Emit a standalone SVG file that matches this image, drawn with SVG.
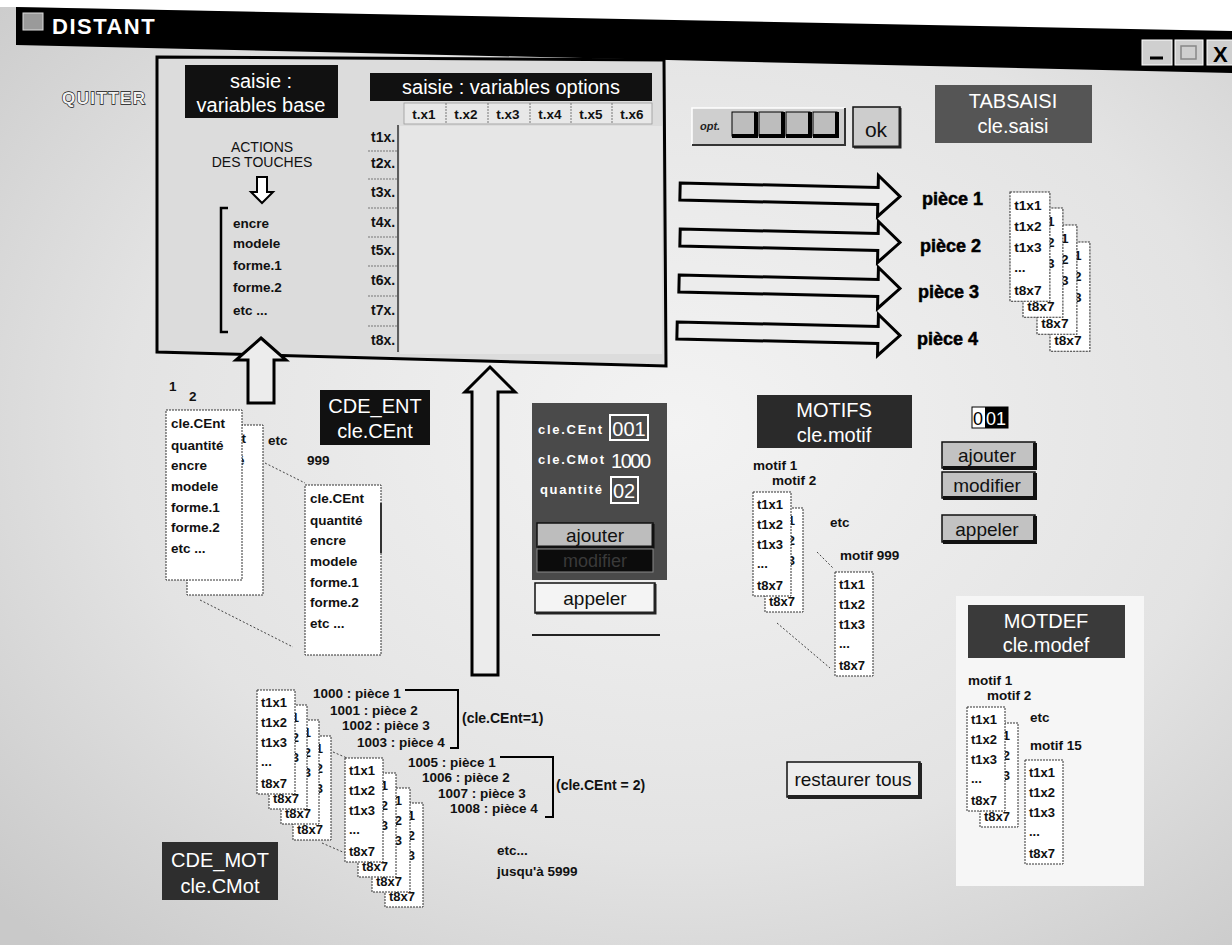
<svg xmlns="http://www.w3.org/2000/svg" width="1232" height="945" viewBox="0 0 1232 945">
<style>
text{font-family:"Liberation Sans",Arial,sans-serif}
.lab{font-size:20px;fill:#fff;text-anchor:middle}
.ct{font-size:13px;font-weight:bold;fill:#111}
.card{fill:#fff;stroke:#333;stroke-width:1;stroke-dasharray:2 1}
.arr{fill:#ececec;stroke:#000;stroke-width:3;stroke-linejoin:miter}
.dot{stroke:#444;stroke-width:1;stroke-dasharray:2 2;fill:none}
.btn{fill:#c2c2c2;stroke:#111;stroke-width:1.5}
.bt{font-size:19px;fill:#111;text-anchor:middle}
.sm{font-size:13.5px;font-weight:bold;fill:#111}
.hd{font-size:13.5px;font-weight:bold;fill:#111;text-anchor:middle}
.rl{font-size:14px;font-weight:bold;fill:#111}
.sep{stroke:#777;stroke-width:1;stroke-dasharray:2 1}
.pc{font-size:18px;font-weight:bold;fill:#000;stroke:#000;stroke-width:0.5}
.pl{font-size:13px;font-weight:bold;fill:#fff}
</style>
<defs>
<radialGradient id="bg" cx="0.55" cy="0.45" r="0.75">
<stop offset="0" stop-color="#f3f3f3"/><stop offset="0.6" stop-color="#e3e3e3"/><stop offset="1" stop-color="#c9c9c9"/>
</radialGradient>
<g id="cardT">
<rect class="card" x="0" y="0" width="38" height="104"/>
<text class="ct" x="4" y="17">t1x1</text>
<text class="ct" x="4" y="37">t1x2</text>
<text class="ct" x="4" y="57">t1x3</text>
<text class="ct" x="4" y="76">...</text>
<text class="ct" x="4" y="98">t8x7</text>
</g>
<g id="cardE">
<rect class="card" x="0" y="0" width="76" height="170"/>
<text class="sm" x="5" y="18">cle.CEnt</text>
<text class="sm" x="5" y="40">quantité</text>
<text class="sm" x="5" y="60">encre</text>
<text class="sm" x="5" y="81">modele</text>
<text class="sm" x="5" y="102">forme.1</text>
<text class="sm" x="5" y="122">forme.2</text>
<text class="sm" x="5" y="143">etc ...</text>
</g>
</defs>

<rect x="0" y="0" width="1232" height="945" fill="url(#bg)"/>
<polygon points="0,0 1232,0 1232,32 16,7 0,7" fill="#fff"/>

<g id="titlebar">
<polygon points="16,7 1232,31 1232,73 16,45" fill="#000"/>
<rect x="23" y="13" width="20" height="17" fill="#9a9a9a" stroke="#ddd" stroke-width="1"/>
<text x="52" y="34" font-size="22" font-weight="bold" fill="#fff" letter-spacing="1.5">DISTANT</text>
<rect x="1142" y="40" width="30" height="25" fill="#cfcfcf" stroke="#fff"/>
<line x1="1150" y1="58" x2="1163" y2="58" stroke="#000" stroke-width="3"/>
<rect x="1175" y="40" width="28" height="25" fill="#cfcfcf" stroke="#fff"/>
<rect x="1181" y="46" width="15" height="13" fill="none" stroke="#888" stroke-width="1.5"/>
<rect x="1207" y="40" width="28" height="25" fill="#cfcfcf" stroke="#fff"/>
<text x="1213" y="62" font-size="22" font-weight="bold" fill="#000">X</text>
</g>

<g id="quitter">
<text x="62" y="104" font-size="17" font-weight="bold" fill="#f2f2f2" stroke="#111" stroke-width="1.3" paint-order="stroke" textLength="83">QUITTER</text>
</g>

<g id="saisie">
<polygon points="157,57 664,60 666,366 157,352" fill="#dcdcdc" stroke="#000" stroke-width="3"/>
<rect x="185" y="65" width="153" height="53" fill="#111"/>
<text class="lab" x="261" y="88">saisie :</text>
<text class="lab" x="261" y="112">variables base</text>
<rect x="370" y="73" width="282" height="28" fill="#111"/>
<text class="lab" x="511" y="94">saisie : variables options</text>
<rect x="404" y="103" width="248" height="21" fill="#e8e8e8" stroke="#999" stroke-width="0.8"/>
<line class="sep" x1="446" y1="103" x2="446" y2="124"/>
<line class="sep" x1="488" y1="103" x2="488" y2="124"/>
<line class="sep" x1="530" y1="103" x2="530" y2="124"/>
<line class="sep" x1="571" y1="103" x2="571" y2="124"/>
<line class="sep" x1="612" y1="103" x2="612" y2="124"/>
<text class="hd" x="424" y="119">t.x1</text>
<text class="hd" x="466" y="119">t.x2</text>
<text class="hd" x="508" y="119">t.x3</text>
<text class="hd" x="550" y="119">t.x4</text>
<text class="hd" x="591" y="119">t.x5</text>
<text class="hd" x="632" y="119">t.x6</text>
<rect x="400" y="126" width="262" height="228" fill="#e6e6e6"/>
<line x1="398" y1="125" x2="398" y2="352" stroke="#333" stroke-width="1.5"/>
<line class="sep" x1="368" y1="151" x2="398" y2="151"/>
<line class="sep" x1="368" y1="179" x2="398" y2="179"/>
<line class="sep" x1="368" y1="208" x2="398" y2="208"/>
<line class="sep" x1="368" y1="237" x2="398" y2="237"/>
<line class="sep" x1="368" y1="266" x2="398" y2="266"/>
<line class="sep" x1="368" y1="296" x2="398" y2="296"/>
<line class="sep" x1="368" y1="326" x2="398" y2="326"/>
<text class="rl" x="371" y="142">t1x.</text>
<text class="rl" x="371" y="168">t2x.</text>
<text class="rl" x="371" y="197">t3x.</text>
<text class="rl" x="371" y="227">t4x.</text>
<text class="rl" x="371" y="255">t5x.</text>
<text class="rl" x="371" y="285">t6x.</text>
<text class="rl" x="371" y="315">t7x.</text>
<text class="rl" x="371" y="345">t8x.</text>
<text x="262" y="152" font-size="14" fill="#111" text-anchor="middle">ACTIONS</text>
<text x="262" y="167" font-size="14" fill="#111" text-anchor="middle">DES TOUCHES</text>
<polygon points="257,177 267,177 267,192 273,192 262,203 251,192 257,192" fill="#fff" stroke="#000" stroke-width="2"/>
<path d="M228,208 L221,208 L221,332 L228,332" fill="none" stroke="#000" stroke-width="2.5"/>
<text class="sm" x="233" y="228">encre</text>
<text class="sm" x="233" y="248">modele</text>
<text class="sm" x="233" y="270">forme.1</text>
<text class="sm" x="233" y="292">forme.2</text>
<text class="sm" x="233" y="315">etc ...</text>
</g>

<g id="opt">
<rect x="692" y="108" width="153" height="37" fill="#cfcfcf"/>
<path d="M692,145 L692,108 L845,108" fill="none" stroke="#fff" stroke-width="1.5"/>
<path d="M692,145 L845,145 L845,108" fill="none" stroke="#333" stroke-width="2"/>
<text x="700" y="130" font-size="11" font-style="italic" font-weight="bold" fill="#222">opt.</text>
<rect x="732" y="112" width="24" height="24" fill="#bdbdbd" stroke="#000"/>
<path d="M756,112 L756,136 L732,136" fill="none" stroke="#000" stroke-width="4"/>
<rect x="759" y="112" width="24" height="24" fill="#bdbdbd" stroke="#000"/>
<path d="M783,112 L783,136 L759,136" fill="none" stroke="#000" stroke-width="4"/>
<rect x="786" y="112" width="24" height="24" fill="#bdbdbd" stroke="#000"/>
<path d="M810,112 L810,136 L786,136" fill="none" stroke="#000" stroke-width="4"/>
<rect x="813" y="112" width="24" height="24" fill="#bdbdbd" stroke="#000"/>
<path d="M837,112 L837,136 L813,136" fill="none" stroke="#000" stroke-width="4"/>
</g>
<g id="ok">
<rect x="853" y="107" width="47" height="40" fill="#cdcdcd" stroke="#111" stroke-width="1.5"/>
<path d="M900,108 L900,147 L854,147" fill="none" stroke="#222" stroke-width="3"/>
<text x="876" y="137" font-size="21" fill="#111" text-anchor="middle">ok</text>
</g>

<g id="tabsaisi">
<rect x="935" y="85" width="157" height="58" fill="#555"/>
<text class="lab" x="1013" y="108">TABSAISI</text>
<text class="lab" x="1013" y="133">cle.saisi</text>
<use href="#cardT" transform="translate(1050,242) scale(1.05)"/>
<use href="#cardT" transform="translate(1037,225) scale(1.05)"/>
<use href="#cardT" transform="translate(1023,208) scale(1.05)"/>
<use href="#cardT" transform="translate(1010,192) scale(1.05)"/>
<text class="pc" x="922" y="205">pièce 1</text>
<text class="pc" x="920" y="252">pièce 2</text>
<text class="pc" x="918" y="298">pièce 3</text>
<text class="pc" x="917" y="345">pièce 4</text>
</g>

<g id="cde_ent">
<rect x="320" y="390" width="110" height="55" fill="#111"/>
<text class="lab" x="375" y="413">CDE_ENT</text>
<text class="lab" x="375" y="438">cle.CEnt</text>
<text class="sm" x="169" y="391">1</text>
<text class="sm" x="189" y="401">2</text>
<use href="#cardE" transform="translate(187,425)"/>
<use href="#cardE" transform="translate(166,410)"/>
<text class="sm" x="268" y="445">etc</text>
<text class="sm" x="307" y="465">999</text>
<use href="#cardE" transform="translate(305,485)"/>
<line x1="381" y1="503" x2="381" y2="553" stroke="#333" stroke-width="2"/>
</g>

<g id="panel">
<rect x="532" y="403" width="135" height="177" fill="#4a4a4a"/>
<text class="pl" x="538" y="434" textLength="64">cle.CEnt</text>
<rect x="610" y="415" width="38" height="25" fill="none" stroke="#fff" stroke-width="2"/>
<text x="629" y="436" font-size="20" fill="#fff" text-anchor="middle">001</text>
<text class="pl" x="538" y="464" textLength="66">cle.CMot</text>
<text x="631" y="468" font-size="20" fill="#fff" text-anchor="middle" textLength="40">1000</text>
<text class="pl" x="540" y="494" textLength="62">quantité</text>
<rect x="611" y="477" width="27" height="26" fill="none" stroke="#fff" stroke-width="2"/>
<text x="624" y="498" font-size="20" fill="#fff" text-anchor="middle">02</text>
<rect x="537" y="523" width="116" height="24" fill="#bdbdbd" stroke="#111" stroke-width="1.5"/>
<path d="M653,524 L653,547 L538,547" fill="none" stroke="#111" stroke-width="3"/>
<text x="595" y="542" font-size="19" fill="#111" text-anchor="middle">ajouter</text>
<rect x="537" y="549" width="116" height="23" fill="#0c0c0c" stroke="#888" stroke-width="1"/>
<text x="595" y="567" font-size="18" fill="#3a3a3a" text-anchor="middle">modifier</text>
<rect x="535" y="583" width="120" height="30" fill="#f4f4f4" stroke="#111" stroke-width="1.5"/>
<path d="M655,584 L655,613 L536,613" fill="none" stroke="#222" stroke-width="3"/>
<text x="595" y="605" font-size="19" fill="#111" text-anchor="middle">appeler</text>
<line x1="532" y1="635" x2="660" y2="635" stroke="#222" stroke-width="2"/>
</g>

<g id="motifs">
<rect x="757" y="395" width="155" height="53" fill="#2a2a2a"/>
<text class="lab" x="834" y="417">MOTIFS</text>
<text class="lab" x="834" y="442">cle.motif</text>
<text class="sm" x="753" y="470">motif 1</text>
<text class="sm" x="772" y="485">motif 2</text>
<use href="#cardT" transform="translate(765,508)"/>
<use href="#cardT" transform="translate(753,492)"/>
<text class="sm" x="830" y="527">etc</text>
<text class="sm" x="840" y="560">motif 999</text>
<use href="#cardT" transform="translate(835,572)"/>
</g>

<g id="motif_ctrl">
<rect x="972" y="407" width="36" height="21" fill="#fff" stroke="#000"/>
<rect x="985" y="407" width="23" height="21" fill="#000"/>
<text x="973" y="425" font-size="18" fill="#000">0</text>
<text x="986" y="425" font-size="18" fill="#fff">01</text>
<rect x="942" y="442" width="93" height="26" class="btn"/>
<path d="M1035,443 L1035,468 L943,468" fill="none" stroke="#111" stroke-width="4"/>
<text class="bt" x="987" y="462">ajouter</text>
<rect x="942" y="472" width="93" height="26" class="btn"/>
<path d="M1035,473 L1035,498 L943,498" fill="none" stroke="#111" stroke-width="4"/>
<text class="bt" x="987" y="492">modifier</text>
<rect x="942" y="515" width="93" height="27" class="btn"/>
<path d="M1035,516 L1035,542 L943,542" fill="none" stroke="#111" stroke-width="4"/>
<text class="bt" x="987" y="536">appeler</text>
</g>

<g id="motdef">
<rect x="956" y="596" width="188" height="290" fill="#f6f6f6"/>
<rect x="968" y="605" width="157" height="53" fill="#3a3a3a"/>
<text class="lab" x="1046" y="628">MOTDEF</text>
<text class="lab" x="1046" y="652">cle.modef</text>
<text class="sm" x="968" y="685">motif 1</text>
<text class="sm" x="987" y="700">motif 2</text>
<use href="#cardT" transform="translate(980,723)"/>
<use href="#cardT" transform="translate(967,707)"/>
<text class="sm" x="1030" y="722">etc</text>
<text class="sm" x="1030" y="750">motif 15</text>
<use href="#cardT" transform="translate(1025,760)"/>
</g>

<g id="restaurer">
<rect x="787" y="762" width="133" height="35" fill="#ededed" stroke="#111" stroke-width="1.5"/>
<path d="M920,763 L920,797 L788,797" fill="none" stroke="#222" stroke-width="4"/>
<text class="bt" x="853" y="786">restaurer tous</text>
</g>

<g id="cde_mot">
<rect x="162" y="842" width="116" height="58" fill="#2e2e2e"/>
<text class="lab" x="220" y="867">CDE_MOT</text>
<text class="lab" x="220" y="893">cle.CMot</text>
<use href="#cardT" transform="translate(293,736)"/>
<use href="#cardT" transform="translate(281,720)"/>
<use href="#cardT" transform="translate(269,705)"/>
<use href="#cardT" transform="translate(257,690)"/>
<use href="#cardT" transform="translate(385,803)"/>
<use href="#cardT" transform="translate(372,788)"/>
<use href="#cardT" transform="translate(358,773)"/>
<use href="#cardT" transform="translate(345,758)"/>
<text class="sm" x="313" y="698">1000 : pièce 1</text>
<text class="sm" x="330" y="715">1001 : pièce 2</text>
<text class="sm" x="342" y="730">1002 : pièce 3</text>
<text class="sm" x="357" y="747">1003 : pièce 4</text>
<path d="M405,690 L458,690 L458,748 L450,748" fill="none" stroke="#000" stroke-width="2"/>
<text x="462" y="723" font-size="14" font-weight="bold" fill="#111">(cle.CEnt=1)</text>
<text class="sm" x="408" y="767">1005 : pièce 1</text>
<text class="sm" x="422" y="782">1006 : pièce 2</text>
<text class="sm" x="438" y="798">1007 : pièce 3</text>
<text class="sm" x="450" y="813">1008 : pièce 4</text>
<path d="M500,757 L553,757 L553,817 L545,817" fill="none" stroke="#000" stroke-width="2"/>
<text x="556" y="790" font-size="14" font-weight="bold" fill="#111">(cle.CEnt = 2)</text>
<text class="sm" x="497" y="855">etc...</text>
<text class="sm" x="497" y="876">jusqu'à 5999</text>
</g>

<g id="connectors">
<polygon class="arr" points="680,185.5 878,185.5 878,173.5 900,194 878,214.5 878,202.5 680,202.5" transform="rotate(1.3 790 194)"/>
<polygon class="arr" points="680,231.5 878,231.5 878,219.5 900,240 878,260.5 878,248.5 680,248.5" transform="rotate(1.3 790 240)"/>
<polygon class="arr" points="679,277.5 878,277.5 878,265.5 900,286 878,306.5 878,294.5 679,294.5" transform="rotate(1.3 790 286)"/>
<polygon class="arr" points="677,324.5 878,324.5 878,312.5 900,333 878,353.5 878,341.5 677,341.5" transform="rotate(1.3 790 333)"/>
<polygon class="arr" points="490,367 515,392 498,392 498,675 472,675 472,392 465,392"/>
<polygon class="arr" points="261,338 286,360 274,360 274,403 248,403 248,360 236,360"/>
<line class="dot" x1="265" y1="463" x2="305" y2="483"/>
<line class="dot" x1="200" y1="600" x2="293" y2="647"/>
<line class="dot" x1="817" y1="552" x2="833" y2="568"/>
<line class="dot" x1="777" y1="623" x2="830" y2="668"/>
<line class="dot" x1="333" y1="752" x2="347" y2="758"/>
<line class="dot" x1="322" y1="843" x2="345" y2="853"/>
</g>
</svg>
